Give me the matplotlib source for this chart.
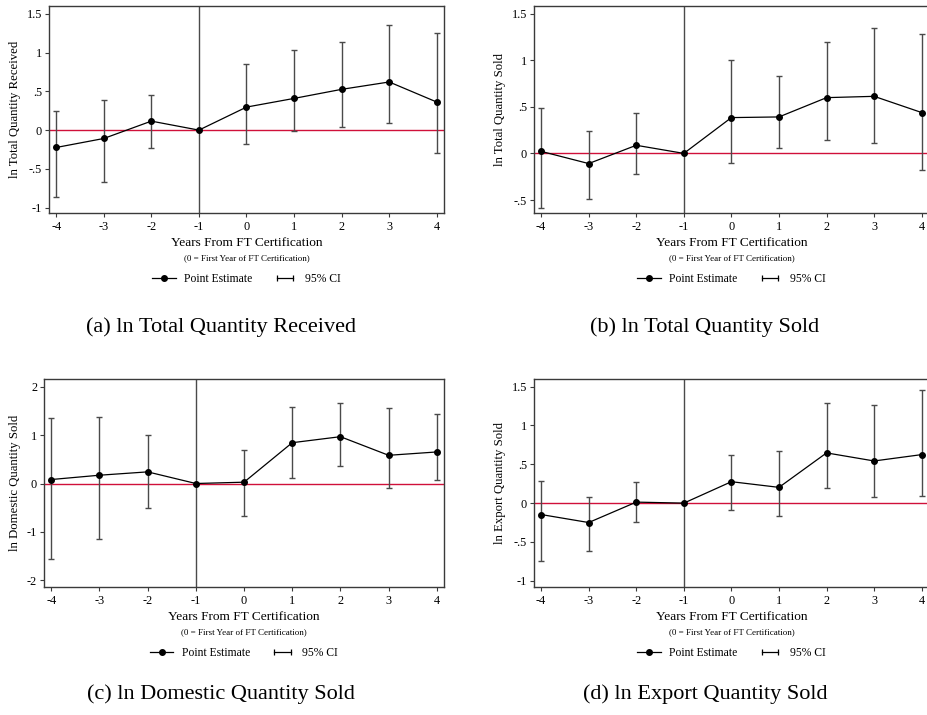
import numpy as np
import matplotlib
matplotlib.use("Agg")
import matplotlib.pyplot as plt
from matplotlib.lines import Line2D
from matplotlib.legend_handler import HandlerLine2D

plt.rcParams["font.family"] = ["Liberation Serif", "DejaVu Serif"]

years = [-4, -3, -2, -1, 0, 1, 2, 3, 4]

# (a) ln Total Quantity Received
recv_est = [-0.224, -0.108, 0.116, 0.0, 0.297, 0.409, 0.526, 0.621, 0.362]
recv_lo = [-0.858, -0.664, -0.237, np.nan, -0.181, -0.009, 0.043, 0.095, -0.293]
recv_hi = [0.246, 0.388, 0.453, np.nan, 0.853, 1.034, 1.138, 1.362, 1.250]

# (b) ln Total Quantity Sold
sold_est = [0.022, -0.109, 0.087, 0.0, 0.384, 0.391, 0.598, 0.612, 0.438]
sold_lo = [-0.590, -0.486, -0.217, np.nan, -0.101, 0.062, 0.145, 0.116, -0.178]
sold_hi = [0.486, 0.243, 0.438, np.nan, 1.004, 0.826, 1.199, 1.348, 1.283]

# (c) ln Domestic Quantity Sold
dom_est = [0.082, 0.171, 0.240, 0.0, 0.027, 0.842, 0.966, 0.582, 0.651]
dom_lo = [-1.548, -1.144, -0.507, np.nan, -0.678, 0.123, 0.370, -0.103, 0.082]
dom_hi = [1.356, 1.370, 1.000, np.nan, 0.685, 1.582, 1.658, 1.548, 1.438]

# (d) ln Export Quantity Sold
exp_est = [-0.147, -0.250, 0.013, 0.0, 0.276, 0.203, 0.647, 0.543, 0.625]
exp_lo = [-0.750, -0.612, -0.237, np.nan, -0.091, -0.172, 0.190, 0.078, 0.095]
exp_hi = [0.289, 0.082, 0.267, np.nan, 0.625, 0.668, 1.284, 1.259, 1.461]

PANELS = [
    dict(est=recv_est, lo=recv_lo, hi=recv_hi, ylabel="ln Total Quantity Received",
         caption="(a) ln Total Quantity Received",
         yticks=[-1, -0.5, 0, 0.5, 1, 1.5], yticklabels=["-1", "-.5", "0", ".5", "1", "1.5"],
         ylim=(-1.07, 1.6), pos=[0.0529, 0.702, 0.426, 0.2895]),
    dict(est=sold_est, lo=sold_lo, hi=sold_hi, ylabel="ln Total Quantity Sold",
         caption="(b) ln Total Quantity Sold",
         yticks=[-0.5, 0, 0.5, 1, 1.5], yticklabels=["-.5", "0", ".5", "1", "1.5"],
         ylim=(-0.64, 1.58), pos=[0.576, 0.702, 0.426, 0.2895]),
    dict(est=dom_est, lo=dom_lo, hi=dom_hi, ylabel="ln Domestic Quantity Sold",
         caption="(c) ln Domestic Quantity Sold",
         yticks=[-2, -1, 0, 1, 2], yticklabels=["-2", "-1", "0", "1", "2"],
         ylim=(-2.13, 2.15), pos=[0.0475, 0.1794, 0.4315, 0.2901]),
    dict(est=exp_est, lo=exp_lo, hi=exp_hi, ylabel="ln Export Quantity Sold",
         caption="(d) ln Export Quantity Sold",
         yticks=[-1, -0.5, 0, 0.5, 1, 1.5], yticklabels=["-1", "-.5", "0", ".5", "1", "1.5"],
         ylim=(-1.077, 1.595), pos=[0.576, 0.1794, 0.426, 0.2901]),
]

FRAME = "#3a3a3a"
BAR = "#4a4a4a"
RED = "#d0103a"


def draw_panel(fig, p):
    ax = fig.add_axes(p["pos"])
    x = np.array(years, dtype=float)
    est = np.array(p["est"])
    lo = np.array(p["lo"])
    hi = np.array(p["hi"])

    ax.axhline(0, color=RED, lw=1.0, zorder=1)
    ax.axvline(-1, color="#4a4a4a", lw=1.0, zorder=1)

    ok = ~np.isnan(lo)
    ax.errorbar(x[ok], est[ok], yerr=[est[ok] - lo[ok], hi[ok] - est[ok]],
                fmt="none", ecolor=BAR, elinewidth=1.0, capsize=2.5, capthick=1.0, zorder=2)
    ax.plot(x, est, color="black", lw=0.9, marker="o", ms=4.0, zorder=3)

    ax.set_xlim(-4.15, 4.15)
    ax.set_ylim(*p["ylim"])
    ax.set_xticks(years)
    ax.set_xticklabels([str(y) for y in years])
    ax.set_yticks(p["yticks"])
    ax.set_yticklabels(p["yticklabels"])
    ax.tick_params(labelsize=8.8, length=3, width=0.8, color=FRAME, pad=2)
    ax.tick_params(axis="x", pad=3)
    for s in ax.spines.values():
        s.set_color(FRAME)
        s.set_linewidth(1.0)

    ax.set_ylabel(p["ylabel"], fontsize=9.2, labelpad=4)
    ax.set_xlabel("Years From FT Certification", fontsize=9.6, labelpad=2.5)
    ax.text(0.5, -0.22, "(0 = First Year of FT Certification)", transform=ax.transAxes,
            ha="center", va="center", fontsize=6.5)

    h_pe = Line2D([], [], color="black", lw=0.9, marker="o", ms=4.0)
    h_ci = Line2D([], [], color="black", lw=0.9, marker="|", ms=5, mew=0.9)
    ax.legend([h_pe, h_ci], ["Point Estimate", "95% CI"], loc="center",
              bbox_to_anchor=(0.5, -0.32), ncol=2, frameon=False, fontsize=8.4,
              handlelength=2.0, columnspacing=1.8, handletextpad=0.7,
              handler_map={h_pe: HandlerLine2D(numpoints=1), h_ci: HandlerLine2D(numpoints=2)})
    return ax


fig = plt.figure(figsize=(9.27, 7.15), dpi=100)
fig.patch.set_facecolor("white")

for p in PANELS:
    draw_panel(fig, p)

fig.text(221 / 927, 1 - 327 / 715, PANELS[0]["caption"], ha="center", va="center", fontsize=16)
fig.text(705 / 927, 1 - 327 / 715, PANELS[1]["caption"], ha="center", va="center", fontsize=16)
fig.text(221 / 927, 1 - 694 / 715, PANELS[2]["caption"], ha="center", va="center", fontsize=16)
fig.text(705 / 927, 1 - 694 / 715, PANELS[3]["caption"], ha="center", va="center", fontsize=16)

fig.savefig("out.png", dpi=100, facecolor="white")
